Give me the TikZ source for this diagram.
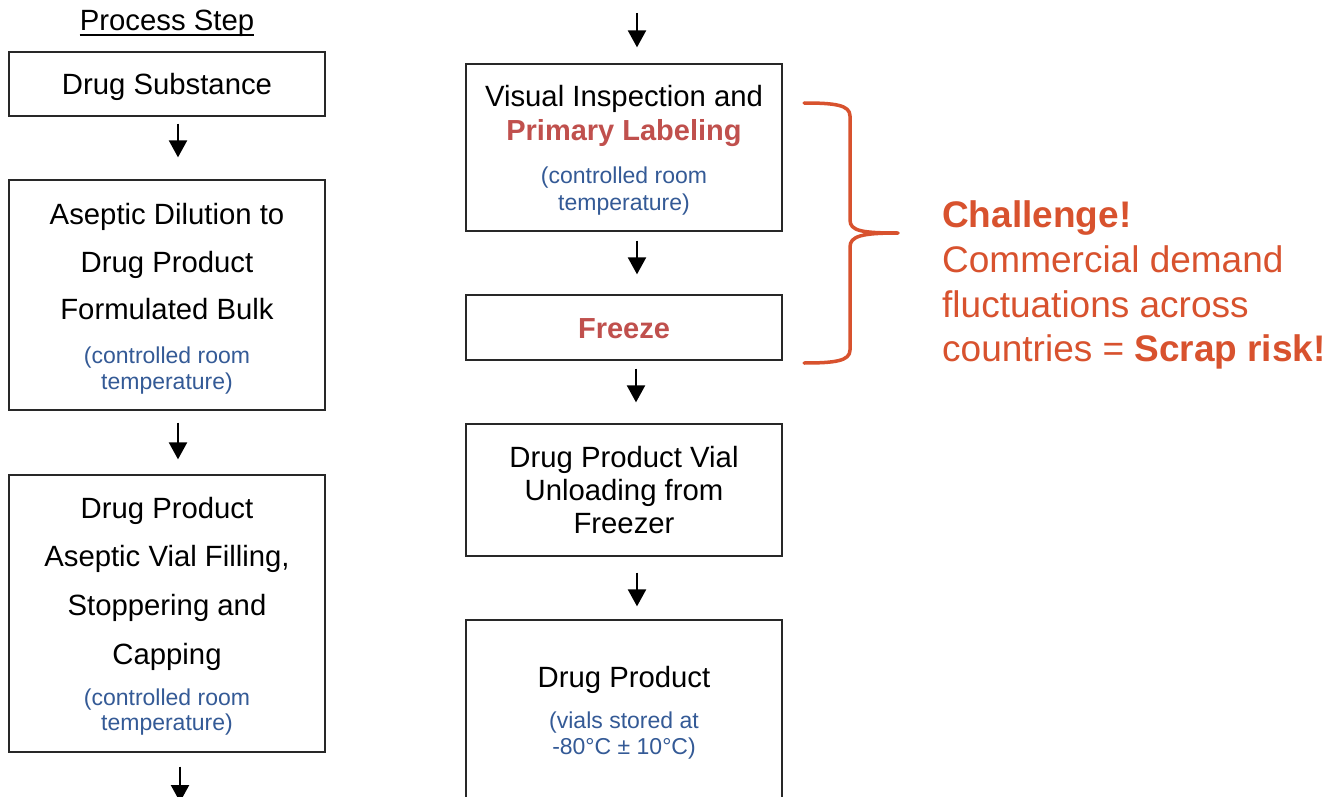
\documentclass[tikz,border=0pt]{standalone}
\usepackage{fontspec}
\setmainfont{Liberation Sans}
\usetikzlibrary{arrows.meta}
\definecolor{boxline}{RGB}{40,40,40}
\definecolor{stepred}{RGB}{192,80,77}
\definecolor{tempblue}{RGB}{52,90,150}
\definecolor{alertorange}{RGB}{216,82,46}
\tikzset{
  stepbox/.style={draw=boxline, line width=1.3pt, minimum width=316pt, inner sep=0pt},
  maintxt/.style={anchor=base, inner sep=0pt, font=\fontsize{29.3}{33}\selectfont},
  redtxt/.style={anchor=base, inner sep=0pt, text=stepred, font=\fontsize{29}{33}\selectfont\bfseries},
  bluetxt/.style={anchor=base, inner sep=0pt, text=tempblue, font=\fontsize{23}{26}\selectfont},
  alerttxt/.style={anchor=base west, inner sep=0pt, text=alertorange, font=\fontsize{37}{44}\selectfont},
  flow/.style={line width=2.3pt, -{Triangle[width=18pt,length=17pt]}},
}
\begin{document}
\begin{tikzpicture}[x=1pt,y=-1pt]
\clip (0,0) rectangle (1330,797);
\fill[white] (0,0) rectangle (1330,797);

% column heading, underlined
\node[maintxt] (head) at (167,31) {Process Step};
\draw[line width=1.6pt] ([yshift=-4pt]head.base west) -- ([yshift=-4pt]head.base east);

% left column
\node[stepbox, minimum height=64pt]  (ds)   at (167,84)    {};
\node[maintxt] (ds1) at (167,95) {Drug Substance};

\node[stepbox, minimum height=230pt] (dil)  at (167,295)   {};
\node[maintxt] (dil1) at (167,224) {Aseptic Dilution to};
\node[maintxt] (dil2) at (167,272) {Drug Product};
\node[maintxt] (dil3) at (167,319) {Formulated Bulk};
\node[bluetxt] (dil4) at (167,363) {(controlled room};
\node[bluetxt] (dil5) at (167,389) {temperature)};

\node[stepbox, minimum height=277pt] (fill) at (167,613.5) {};
\node[maintxt] (fill1) at (167,518) {Drug Product};
\node[maintxt] (fill2) at (167,566) {Aseptic Vial Filling,};
\node[maintxt] (fill3) at (167,615) {Stoppering and};
\node[maintxt] (fill4) at (167,664) {Capping};
\node[bluetxt] (fill5) at (167,705) {(controlled room};
\node[bluetxt] (fill6) at (167,730) {temperature)};

% right column
\node[stepbox, minimum height=167pt] (vis)  at (624,147.5) {};
\node[maintxt] (vis1) at (624,107) {Visual Inspection and};
\node[redtxt]  (vis2) at (624,141) {Primary Labeling};
\node[bluetxt] (vis3) at (624,183) {(controlled room};
\node[bluetxt] (vis4) at (624,210) {temperature)};

\node[stepbox, minimum height=65pt]  (frz)  at (624,327.5) {};
\node[redtxt]  (frz1) at (624,338) {Freeze};

\node[stepbox, minimum height=132pt] (unl)  at (624,490)   {};
\node[maintxt] (unl1) at (624,467) {Drug Product Vial};
\node[maintxt] (unl2) at (624,500) {Unloading from};
\node[maintxt] (unl3) at (624,533) {Freezer};

\node[stepbox, minimum height=220pt] (dp)   at (624,730)   {};
\node[maintxt] (dp1) at (624,687) {Drug Product};
\node[bluetxt] (dp2) at (624,728) {(vials stored at};
\node[bluetxt] (dp3) at (624,754) {-80°C ± 10°C)};

% flow arrows
\coordinate (topin)  at (637,13);
\coordinate (botout) at (180,802);
\draw[flow] ([xshift=11pt,yshift=-7pt]ds.south) -- ([xshift=11pt,yshift=22pt]dil.north);
\draw[flow] ([xshift=11pt,yshift=-12pt]dil.south) -- ([xshift=11pt,yshift=15pt]fill.north);
\draw[flow] ([xshift=13pt,yshift=-14pt]fill.south) -- (botout);
\draw[flow] (topin) -- ([xshift=13pt,yshift=16pt]vis.north);
\draw[flow] ([xshift=13pt,yshift=-9pt]vis.south) -- ([xshift=13pt,yshift=20pt]frz.north);
\draw[flow] ([xshift=12pt,yshift=-8pt]frz.south) -- ([xshift=12pt,yshift=21pt]unl.north);
\draw[flow] ([xshift=13pt,yshift=-16pt]unl.south) -- ([xshift=13pt,yshift=13pt]dp.north);

% brace grouping labeling and freezing
\coordinate (brtop) at (804,103);
\coordinate (brtip) at (898,233);
\coordinate (brbot) at (804,363);
\draw[alertorange, line width=3.5pt, line cap=round, line join=round]
  (brtop) .. controls (835,103) and (850,105) .. (850,116)
  -- (850,220) .. controls (850,231) and (862,233) .. (brtip)
  .. controls (862,233) and (850,236) .. (850,247)
  -- (850,350) .. controls (850,361) and (835,363) .. (brbot);

% challenge note
\node[alerttxt] (ch1) at (942,227) {\bfseries Challenge!};
\node[alerttxt] (ch2) at (942,272) {Commercial demand};
\node[alerttxt] (ch3) at (942,317) {fluctuations across};
\node[alerttxt] (ch4) at (942,361) {countries = \textbf{Scrap risk!}};
\end{tikzpicture}
\end{document}
